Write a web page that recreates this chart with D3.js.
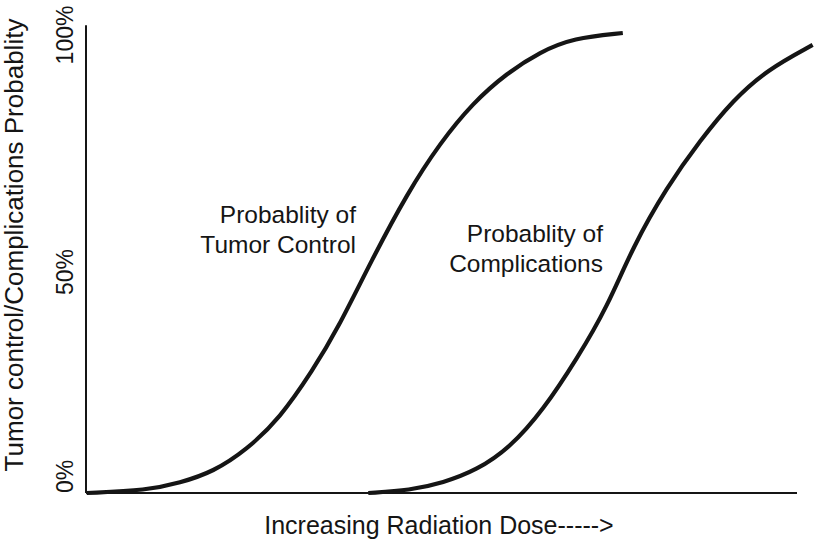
<!DOCTYPE html>
<html>
<head>
<meta charset="utf-8">
<script src="https://cdn.jsdelivr.net/npm/d3@7"></script>
<style>
  html, body { margin: 0; padding: 0; background: #fff; }
  svg { display: block; font-family: "Liberation Sans", Arial, Helvetica, sans-serif; }
</style>
</head>
<body>
<svg id="chart" width="817" height="542"></svg>
<script>
// ---- data (dose in arbitrary units 0-100, probability 0-1) ----
const tumorDose = [0.1, 8.6, 13.2, 17.9, 22.6, 27.3, 31.9, 35.3, 40.2, 45.2, 49.8, 54.4, 59.2, 63.9, 68.5, 75.5];
const tumorProb = [0, 0.006, 0.022, 0.046, 0.094, 0.163, 0.267, 0.354, 0.507, 0.652, 0.761, 0.848, 0.913, 0.959, 0.989, 1.0];

const compDose = [39.7, 45.6, 50.2, 55.0, 59.6, 64.3, 69.1, 73.3, 76.9, 81.7, 86.4, 91.0, 95.8, 102.2];
const compProb = [0, 0.006, 0.022, 0.050, 0.098, 0.180, 0.293, 0.404, 0.535, 0.665, 0.767, 0.854, 0.920, 0.974];

const yTickValues = [0, 0.5, 1];
const yTickLabels = ["0%", "50%", "100%"];

const seriesLabels = [
  ["Probablity of", "Tumor Control"],
  ["Probablity of", "Complications"]
];
const xAxisTitle = "Increasing Radiation Dose----->";
const yAxisTitle = "Tumor control/Complications Probablity";

// ---- layout ----
const svg = d3.select("#chart");
const x = d3.scaleLinear().domain([0, 100]).range([86, 797]);
const y = d3.scaleLinear().domain([0, 1]).range([493, 33]);
const yAxisTop = 1.017;
const ink = "#151515";

// curves
const line = d3.line()
  .x(d => x(d[0]))
  .y(d => y(d[1]))
  .curve(d3.curveBasis);

const tumor = tumorDose.map((d, i) => [d, tumorProb[i]]);
const comp = compDose.map((d, i) => [d, compProb[i]]);

// axes (domain lines only, no ticks)
svg.append("line")
  .attr("x1", x(0)).attr("x2", x(0))
  .attr("y1", y(0)).attr("y2", y(yAxisTop))
  .attr("stroke", ink).attr("stroke-width", 2);
svg.append("line")
  .attr("x1", x(0)).attr("x2", x(100))
  .attr("y1", y(0)).attr("y2", y(0))
  .attr("stroke", ink).attr("stroke-width", 2);

[tumor, comp].forEach(s => {
  svg.append("path")
    .attr("d", line(s))
    .attr("fill", "none")
    .attr("stroke", ink)
    .attr("stroke-width", 4.2)
    .attr("stroke-linecap", "butt");
});

// y tick labels (rotated)
const tickAnchor = ["start", "middle", "middle"];
const tickShift = [0, 9, 2];
yTickValues.forEach((v, i) => {
  svg.append("text")
    .attr("transform", `translate(73,${y(v) + tickShift[i]}) rotate(-90)`)
    .attr("text-anchor", tickAnchor[i])
    .attr("font-size", 23)
    .attr("fill", ink)
    .text(yTickLabels[i]);
});

// y axis title
svg.append("text")
  .attr("transform", `translate(23,${y(0.5) - 18}) rotate(-90)`)
  .attr("text-anchor", "middle")
  .attr("font-size", 26)
  .attr("fill", ink)
  .text(yAxisTitle);

// x axis title
svg.append("text")
  .attr("x", 439).attr("y", 534)
  .attr("text-anchor", "middle")
  .attr("font-size", 25)
  .attr("fill", ink)
  .text(xAxisTitle);

// series labels
const labelPos = [[356, 223], [603, 242]];
seriesLabels.forEach((lines, i) => {
  const t = svg.append("text")
    .attr("text-anchor", "end")
    .attr("font-size", 24.5)
    .attr("fill", ink);
  lines.forEach((ln, j) => {
    t.append("tspan")
      .attr("x", labelPos[i][0])
      .attr("y", labelPos[i][1] + j * 29.5)
      .text(ln);
  });
});
</script>
</body>
</html>
